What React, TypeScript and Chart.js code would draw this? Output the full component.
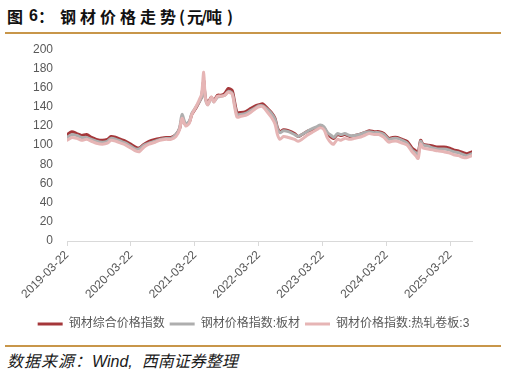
import React, { useEffect, useRef } from "react";
import { Chart, registerables } from "chart.js";

Chart.register(...registerables);

const dates = [
  "2019-03-22","2019-04-19","2019-05-17","2019-06-14","2019-07-12","2019-08-09","2019-09-06","2019-10-11",
  "2019-11-08","2019-11-29","2019-12-27","2020-01-24","2020-02-21","2020-03-20","2020-04-17","2020-05-08",
  "2020-06-05","2020-07-03","2020-08-07","2020-09-04","2020-10-09","2020-11-06","2020-12-04","2020-12-25",
  "2021-01-08","2021-01-29","2021-02-19","2021-03-05","2021-03-26","2021-04-16","2021-04-30","2021-05-12",
  "2021-05-21","2021-06-04","2021-06-25","2021-07-09","2021-07-30","2021-08-20","2021-09-10","2021-09-30",
  "2021-10-22","2021-11-05","2021-11-19","2021-12-10","2022-01-07","2022-02-04","2022-03-04","2022-03-25",
  "2022-04-15","2022-05-13","2022-06-03","2022-06-24","2022-07-08","2022-07-22","2022-08-12","2022-09-09",
  "2022-10-14","2022-11-04","2022-11-25","2022-12-23","2023-01-20","2023-02-17","2023-03-10","2023-03-31",
  "2023-04-21","2023-05-12","2023-05-26","2023-06-16","2023-07-07","2023-07-28","2023-08-25","2023-09-22",
  "2023-10-20","2023-11-17","2023-12-15","2024-01-12","2024-02-09","2024-03-08","2024-04-05","2024-04-26",
  "2024-05-24","2024-06-21","2024-07-19","2024-08-16","2024-09-06","2024-09-20","2024-10-04","2024-10-18",
  "2024-11-15","2024-12-13","2025-01-10","2025-02-14","2025-03-14","2025-04-11","2025-05-09","2025-06-06",
  "2025-06-27","2025-07-25"
];

const composite = [
  111,114,112,110,111,108,106,105,106,109,108,106,104,101,98,97,
  101,104,106,107,108,108,111,117,127,121,124,132,138,145,150,168,
  150,144,150,146,152,152,154,159,157,145,134,134,135,138,141,142,
  143,138,134,128,118,114,116,115,112,109,111,114,116,118,120,118,
  112,108,107,111,110,111,109,110,111,113,115,114,114,112,107,108,
  108,106,104,97,94,92,105,101,100,99,98,98,97,95,94,92,
  91,93
];

const plate = [
  108,111,110,108,108,106,104,103,104,107,106,104,102,99,96,96,
  100,102,104,106,107,107,111,118,132,122,125,133,139,145,150,167,
  149,142,149,145,150,151,152,156,154,142,132,132,133,136,139,141,
  141,137,133,127,117,113,115,114,111,109,111,114,117,119,121,119,
  113,110,108,112,111,112,110,110,111,113,114,113,113,111,106,107,
  107,105,102,95,92,90,104,100,99,97,96,96,95,93,92,90,
  89,91
];

const hrc = [
  105,108,107,105,106,104,102,101,102,105,104,102,100,97,94,93,
  98,101,103,105,106,106,109,116,128,120,123,132,139,147,153,176,
  150,142,150,145,151,151,152,155,153,140,129,130,131,134,138,140,
  140,134,129,122,111,106,109,108,106,104,106,110,113,116,118,116,
  107,102,101,106,105,107,106,107,108,110,112,111,111,108,103,104,
  104,102,100,93,89,86,101,97,96,95,94,93,92,90,89,87,
  87,89
];

const tickLabels = ["2019-03-22","2020-03-22","2021-03-22","2022-03-22","2023-03-22","2024-03-22","2025-03-22"];

const seriesNames = ["钢材综合价格指数", "钢材价格指数:板材", "钢材价格指数:热轧卷板:3"];
const seriesColors = ["#A5373A", "#AEAEAE", "#E6B5B5"];

const toDay = (s: string) =>
  Date.UTC(+s.slice(0, 4), +s.slice(5, 7) - 1, +s.slice(8, 10)) / 86400000;

const FONT = "'Liberation Sans', 'Noto Sans CJK SC', sans-serif";

const centerLegend = {
  id: "centerLegend",
  afterLayout(chart: any) {
    const l = chart.legend;
    if (l) {
      l.left = 0;
      l.right = chart.width;
      l.width = chart.width;
    }
  },
};

export default function App() {
  const ref = useRef<HTMLCanvasElement | null>(null);

  useEffect(() => {
    document.body.style.margin = "0";
    const canvas = ref.current;
    if (!canvas) return;
    const xs = dates.map(toDay);
    const ticksX = tickLabels.map(toDay);
    const all = [composite, plate, hrc];
    const chart = new Chart(canvas, {
      type: "line",
      data: {
        datasets: all.map((vals, i) => ({
          label: seriesNames[i],
          data: vals.map((v, j) => ({ x: xs[j], y: v })),
          borderColor: seriesColors[i],
          backgroundColor: seriesColors[i],
          borderWidth: 3,
          pointRadius: 0,
          tension: 0.25,
          borderCapStyle: "round",
          borderJoinStyle: "round",
          order: 3 - i,
        })),
      },
      options: {
        responsive: false,
        animation: false,
        events: [],
        layout: { padding: { left: 0, right: 35, top: 5, bottom: 0 } },
        scales: {
          x: {
            type: "linear",
            min: xs[0],
            max: xs[xs.length - 1],
            afterBuildTicks: (scale: any) => {
              scale.ticks = ticksX.map((v) => ({ value: v }));
            },
            afterFit: (scale: any) => {
              scale.height = 72;
            },
            ticks: {
              autoSkip: false,
              maxRotation: 45,
              minRotation: 45,
              color: "#595959",
              font: { family: FONT, size: 12 },
              padding: 2,
              callback: (_v: any, i: number) => tickLabels[i],
            },
            grid: {
              display: true,
              drawOnChartArea: false,
              drawTicks: true,
              tickLength: 5,
              color: "#D9D9D9",
            },
            border: { display: true, color: "#D9D9D9", width: 1 },
          },
          y: {
            min: 0,
            max: 200,
            afterFit: (scale: any) => {
              scale.width = 67;
            },
            ticks: {
              stepSize: 20,
              color: "#595959",
              font: { family: FONT, size: 12 },
              padding: 14,
            },
            grid: { display: false, drawTicks: false },
            border: { display: false },
          },
        },
        plugins: {
          tooltip: { enabled: false },
          legend: {
            position: "bottom",
            labels: {
              usePointStyle: true,
              pointStyle: "line",
              pointStyleWidth: 25,
              padding: 5,
              color: "#595959",
              font: { family: FONT, size: 12 },
              sort: (a: any, b: any) => a.datasetIndex - b.datasetIndex,
            },
          },
        },
      } as any,
      plugins: [centerLegend],
    });
    return () => chart.destroy();
  }, []);

  return (
    <div style={{ position: "absolute", left: 0, top: 0, width: 507, height: 377, background: "#fff", overflow: "hidden" }}>
      <div style={{ position: "absolute", top: 6, left: 0, height: 20, fontFamily: "'Noto Sans CJK SC', sans-serif", fontWeight: 700, fontSize: 16, lineHeight: "20px", color: "#111", whiteSpace: "nowrap" }}>
        <span style={{ position: "absolute", left: 7 }}>图</span>
        <span style={{ position: "absolute", left: 29, fontFamily: "'Liberation Sans', 'Noto Sans CJK SC', sans-serif" }}>6</span>
        <span style={{ position: "absolute", left: 38 }}>：</span>
        <span style={{ position: "absolute", left: 60, letterSpacing: 4 }}>钢材价格走势</span>
        <span style={{ position: "absolute", left: 179 }}>(</span>
        <span style={{ position: "absolute", left: 187 }}>元</span>
        <span style={{ position: "absolute", left: 201 }}>/</span>
        <span style={{ position: "absolute", left: 206 }}>吨</span>
        <span style={{ position: "absolute", left: 227 }}>)</span>
      </div>
      <div style={{ position: "absolute", top: 32, left: 5, width: 496, height: 2, background: "#C8964A" }} />
      <canvas ref={ref} width={507} height={312} style={{ position: "absolute", left: 0, top: 28, width: 507, height: 312 }} />
      <div style={{ position: "absolute", top: 345, left: 5, width: 496, height: 2, background: "#C8964A" }} />
      <div style={{ position: "absolute", top: 352, left: 7, fontFamily: "'Liberation Sans', 'Noto Sans CJK SC', sans-serif", fontStyle: "italic", fontSize: 16, lineHeight: "20px", color: "#1a1a1a", whiteSpace: "nowrap" }}>
        <span style={{ letterSpacing: 1 }}>数据来源：</span>Wind,&nbsp;&nbsp;<span>西南证券整理</span>
      </div>
    </div>
  );
}
